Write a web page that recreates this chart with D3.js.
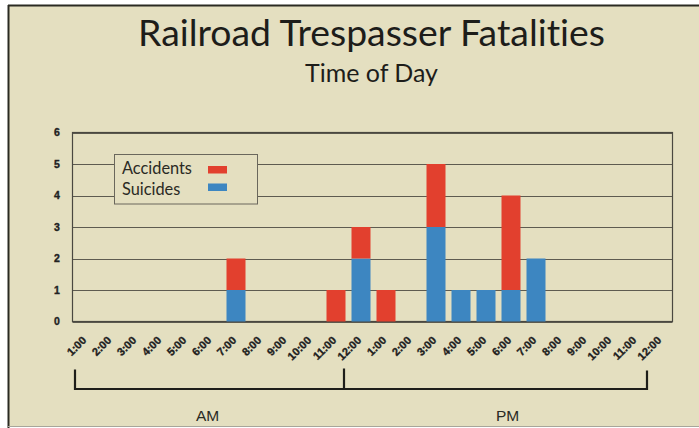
<!DOCTYPE html>
<html><head><meta charset="utf-8">
<script src="https://cdn.jsdelivr.net/npm/d3@7/dist/d3.min.js"></script>
<style>html,body{margin:0;padding:0;background:#fff;}svg{display:block;} text{font-variant-ligatures:none;}</style>
</head><body>
<svg id="chart" width="699" height="428"></svg>
<script>
// ---- data ----
const hourLabels = ["1:00","2:00","3:00","4:00","5:00","6:00","7:00","8:00","9:00","10:00","11:00","12:00",
                    "1:00","2:00","3:00","4:00","5:00","6:00","7:00","8:00","9:00","10:00","11:00","12:00"];
const suicides  = [0,0,0,0,0,0,1,0,0,0,0,2, 0,0,3,1,1,1,2,0,0,0,0,0];
const accidents = [0,0,0,0,0,0,1,0,0,0,1,1, 1,0,2,0,0,3,0,0,0,0,0,0];
const seriesNames = ["Suicides","Accidents"];
const yTicks = [0,1,2,3,4,5,6];
const periodLabels = ["AM","PM"];
const titleText = "Railroad Trespasser Fatalities";
const subtitleText = "Time of Day";

const colors = {Accidents:"#e2402e", Suicides:"#3d86c1"};
const bg = "#e4dfc0";

const svg = d3.select("#chart");
// page background & frame
svg.append("rect").attr("x",8).attr("y",5).attr("width",691).attr("height",421).attr("fill",bg);
svg.append("line").attr("x1",8).attr("x2",699).attr("y1",5.5).attr("y2",5.5).attr("stroke","#2a2a22").attr("stroke-width",2);
svg.append("line").attr("x1",8.5).attr("x2",8.5).attr("y1",5).attr("y2",428).attr("stroke","#2a2a22").attr("stroke-width",2);
svg.append("line").attr("x1",8).attr("x2",699).attr("y1",426.5).attr("y2",426.5).attr("stroke","#a8a69a").attr("stroke-width",1);

const plot = {l:72.5, r:672.5, t:132.5, b:321.5};
const x = d3.scaleBand().domain(d3.range(hourLabels.length)).range([73.5, 673.5]).paddingInner(0.24).paddingOuter(0.12);
const slot = d3.scaleBand().domain(d3.range(hourLabels.length)).range([73, 673]);
const y = d3.scaleLinear().domain([0,6]).range([plot.b, plot.t]);

// gridlines
svg.append("g").selectAll("line").data(yTicks).join("line")
  .attr("x1",plot.l).attr("x2",plot.r)
  .attr("y1",d=>Math.round(y(d))+0.5).attr("y2",d=>Math.round(y(d))+0.5)
  .attr("stroke","#5e5b50").attr("stroke-width",1);
// plot border
svg.append("rect").attr("x",plot.l).attr("y",plot.t).attr("width",plot.r-plot.l).attr("height",plot.b-plot.t)
  .attr("fill","none").attr("stroke","#4a4840").attr("stroke-width",1.2);

// stacked bars
const table = hourLabels.map((h,i)=>({i, Suicides:suicides[i], Accidents:accidents[i]}));
const stack = d3.stack().keys(seriesNames)(table);
svg.append("g").selectAll("g").data(stack).join("g")
  .attr("fill",d=>colors[d.key])
  .selectAll("rect").data(d=>d.filter(p=>p[1]-p[0]>0)).join("rect")
  .attr("x",d=>x(d.data.i)).attr("width",x.bandwidth())
  .attr("y",d=>y(d[1])).attr("height",d=>y(d[0])-y(d[1]));

// y axis labels
const yAxis = d3.axisLeft(y).tickValues(yTicks).tickSize(0).tickPadding(0).tickFormat(d3.format("d"));
const yg = svg.append("g").attr("transform","translate(60,0)").call(yAxis);
yg.select(".domain").remove();
yg.selectAll("text").style("font-family","Liberation Sans, Arial, sans-serif").style("font-weight","bold")
  .style("font-size","10.5px").attr("fill","#222").attr("stroke","#222").attr("stroke-width",0.35)
  .attr("text-anchor","middle").attr("x",-3);

// x labels
const xAxis = d3.axisBottom(slot).tickSize(0).tickPadding(0).tickFormat(i=>hourLabels[i]);
const xg = svg.append("g").attr("transform","translate(0,341)").call(xAxis);
xg.select(".domain").remove();
xg.selectAll("text").style("font-family","Liberation Sans, Arial, sans-serif").style("font-weight","bold")
  .style("font-size","11px").attr("fill","#1e1e1e").attr("stroke","#1e1e1e").attr("stroke-width",0.35)
  .attr("text-anchor","end")
  .attr("y",0).attr("dy",0).attr("x",0)
  .attr("transform","translate(1.5,0) rotate(-45)");

// AM / PM brackets
const bx0 = slot(0)+2, bx1 = slot(11)-4, bx2 = slot(23)-1;
const bTop = 369.5, bBot = 389;
svg.append("path")
  .attr("d",`M${bx0},${bTop}V${bBot}H${bx2}V${bTop+1}M${bx1},${bTop-1}V${bBot}`)
  .attr("fill","none").attr("stroke","#1e1e1a").attr("stroke-width",2.2);
svg.append("g").selectAll("text").data(periodLabels).join("text")
  .attr("x",(d,i)=>slot(i===0?5:17)+slot.bandwidth()/2-3)
  .attr("y",421).attr("text-anchor","middle")
  .attr("font-family","Liberation Sans, Arial, sans-serif").attr("font-size","15.5px").attr("fill","#2a2a24")
  .text(d=>d);

// title
function fit(sel, target){ const w = sel.node().getComputedTextLength(); const fs = parseFloat(sel.attr("font-size")); sel.attr("font-size", (fs*target/w).toFixed(2)+"px"); }
const t1 = svg.append("text").attr("x",371.5).attr("y",46).attr("text-anchor","middle")
  .attr("font-family","Lato, sans-serif").attr("font-size","32px").attr("fill","#1d1d1a").text(titleText);
fit(t1, 467);
const t2 = svg.append("text").attr("x",371.5).attr("y",81.5).attr("text-anchor","middle")
  .attr("font-family","Lato, sans-serif").attr("font-size","22px").attr("fill","#1d1d1a").text(subtitleText);
fit(t2, 133);

// legend
const lg = svg.append("g");
lg.append("rect").attr("x",114.5).attr("y",154.5).attr("width",143).attr("height",49.5)
  .attr("fill",bg).attr("stroke","#6a675c").attr("stroke-width",1);
const legendItems = ["Accidents","Suicides"];
legendItems.forEach((k,i)=>{
  const tt = lg.append("text").attr("x",122).attr("y",174+i*21)
    .attr("font-family","Lato, sans-serif").attr("font-size","15px").attr("fill","#2a2a24").text(k);
  if(i===0) fit(tt,70); else tt.attr("font-size", lg.select("text").attr("font-size"));
  lg.append("rect").attr("x",208).attr("y",166+i*17.5).attr("width",19).attr("height",7.5).attr("fill",colors[k]);
});
</script>
</body></html>
